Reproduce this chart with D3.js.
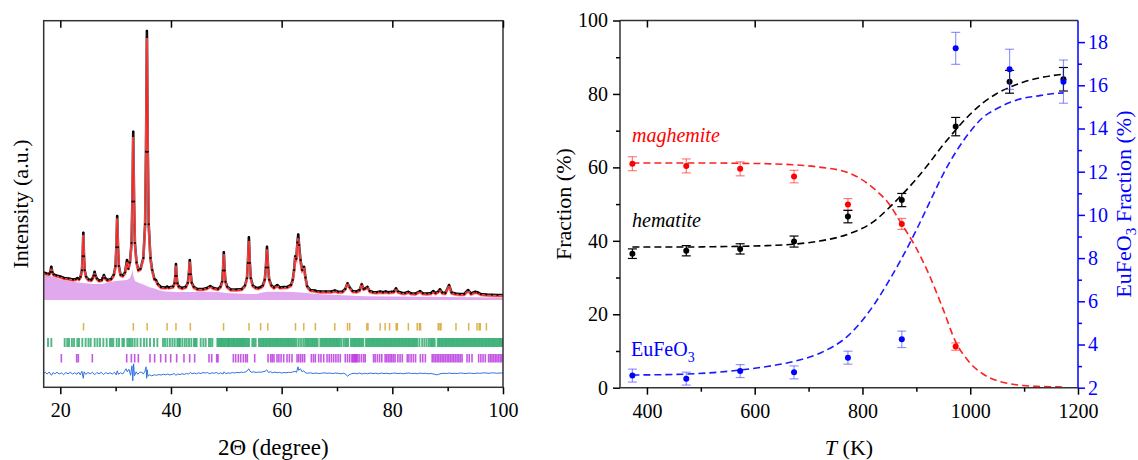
<!DOCTYPE html>
<meta charset="utf-8">
<style>
body { margin: 0; background: #fff; }
</style>
<body>
<script src="https://cdn.jsdelivr.net/npm/d3@7"></script>
<script>

// ---------- left panel: XRD refinement ----------
// [2theta, observed, calculated] in arbitrary units
var profile = [
  [17.0,110,105],[17.5,106,101],[18.0,104,99],[18.2,112,106],[18.37,133,124],[18.55,112,107],
  [18.8,102,97],[19.3,98,93],[20.0,94,89],[20.7,88,83],[21.5,86,81],[22.3,82,77],[22.8,84,79],
  [23.1,88,83],[23.4,84,79],[23.66,93,88],[23.91,119,114],[24.04,175,170],[24.16,269,260],
  [24.28,175,170],[24.41,119,114],[24.66,93,88],[25.1,82,77],[25.6,80,75],[25.8,86,81],
  [26.05,98,93],[26.2,113,106],[26.35,98,93],[26.6,86,81],[27.0,78,73],[27.5,80,75],
  [27.65,88,83],[27.88,100,94],[28.1,88,83],[28.5,80,75],[29.2,84,79],[29.68,101,96],
  [29.98,136,131],[30.13,211,206],[30.28,336,326],[30.43,211,206],[30.58,136,131],
  [30.88,101,96],[31.3,98,93],[31.7,110,104],[32.05,160,150],[32.3,125,120],[32.58,150,145],
  [32.88,228,222],[33.03,394,386],[33.18,673,652],[33.33,394,388],[33.48,228,223],
  [33.78,150,145],[34.1,120,115],[34.5,125,120],[35.01,168,163],[35.33,303,297],
  [35.49,593,582],[35.65,1076,1048],[35.81,593,585],[35.97,303,298],[36.29,168,163],
  [36.6,120,115],[37.0,84,79],[37.3,80,75],[37.6,64,59],[38.2,52,47],[39.0,50,45],
  [39.3,54,49],[39.6,50,45],[40.4,54,49],[40.65,67,62],[40.78,96,91],[40.9,144,137],
  [41.02,96,91],[41.15,67,62],[41.4,54,49],[42.0,48,43],[42.7,53,48],[43.05,69,64],
  [43.23,103,98],[43.4,160,153],[43.58,103,98],[43.75,69,64],[44.1,53,48],[44.8,44,39],
  [45.8,44,39],[46.5,48,43],[47.1,56,51],[47.7,48,43],[48.5,44,39],[48.95,53,48],
  [49.25,73,68],[49.4,118,113],[49.55,191,183],[49.7,118,113],[49.85,73,68],[50.15,53,48],
  [50.8,42,37],[51.8,42,37],[52.8,44,39],[53.38,58,53],[53.73,87,82],[53.9,148,142],
  [54.08,251,236],[54.25,148,143],[54.43,87,82],[54.78,58,53],[55.3,50,45],[55.8,48,43],
  [56.2,52,47],[56.6,58,53],[56.95,81,76],[57.15,130,124],[57.35,213,202],[57.55,130,125],
  [57.75,81,76],[58.15,58,53],[58.6,50,45],[59.2,60,54],[59.7,50,45],[60.3,52,47],
  [61.0,52,47],[61.7,60,55],[62.0,80,75],[62.25,120,115],[62.45,175,167],[62.65,165,159],
  [62.85,230,221],[63.0,262,246],[63.15,220,211],[63.4,160,150],[63.7,120,114],
  [64.05,133,124],[64.3,90,85],[64.6,55,50],[65.2,40,35],[66.0,38,33],[66.3,36,31],
  [67.0,34,29],[68.0,34,29],[69.0,34,29],[69.6,38,33],[70.2,33,28],[71.0,34,29],
  [71.5,44,40],[71.9,67,64],[72.3,50,47],[72.8,36,31],[73.5,34,29],[74.1,40,35],
  [74.47,63,60],[74.8,44,40],[75.1,46,42],[75.5,53,50],[75.9,36,31],[76.5,32,27],
  [77.2,31,26],[77.8,34,29],[78.3,31,26],[78.8,34,29],[79.3,31,26],[79.9,33,28],
  [80.3,34,29],[80.67,47,43],[81.0,34,29],[81.7,29,24],[82.3,28,23],[82.9,33,28],
  [83.4,27,22],[84.2,26,21],[85.0,36,31],[85.5,27,22],[86.3,26,21],[87.0,28,23],
  [87.4,36,31],[87.8,28,23],[88.3,34,30],[88.6,43,39],[89.0,30,25],[89.6,28,23],
  [90.25,60,56],[90.7,30,25],[91.4,26,21],[92.2,24,19],[93.0,24,19],[93.7,40,35],
  [94.2,26,21],[95.0,33,28],[95.5,30,25],[96.0,24,19],[97.0,22,17],[98.0,21,16],
  [99.0,20,15],[100.0,20,15]
];

// shaded contribution under the pattern
var background = [
  [17.0,100],[18.3,96],[20.0,82],[22.0,74],[24.0,68],[26.0,64],[27.5,64],[29.0,72],
  [30.0,76],[31.0,78],[32.0,80],[32.6,88],[32.9,105],[33.1,122],[33.2,96],[33.5,76],
  [34.0,70],[35.0,62],[36.0,52],[37.0,46],[38.0,38],[39.0,34],[41.0,32],[44.0,32],
  [47.0,33],[49.0,31],[50.0,28],[52.0,26],[54.0,24],[55.5,24],[56.5,30],[57.5,33],
  [60.0,33],[62.0,32],[63.5,30],[65.0,27],[67.0,23],[70.0,20],[72.0,18],[75.0,15],
  [80.0,14],[85.0,13],[90.0,12],[95.0,11],[100.0,9]
];

// observed - calculated
var difference = [
  [17.0,0],[17.3,4],[17.6,-3],[18.0,5],[18.4,-8],[18.7,3],[19.0,-2],[19.4,4],[19.8,-3],
  [20.2,2],[20.6,-5],[21.0,3],[21.4,-2],[21.8,4],[22.2,-3],[22.6,2],[23.0,-4],[23.3,5],
  [23.6,-6],[23.9,8],[24.15,-20],[24.3,6],[24.6,-4],[25.0,3],[25.4,-2],[25.8,4],[26.2,-6],
  [26.6,3],[27.0,-2],[27.4,4],[27.8,-5],[28.2,3],[28.6,-2],[29.0,2],[29.4,-3],[29.8,4],
  [30.1,-6],[30.3,10],[30.5,-4],[30.9,2],[31.3,-3],[31.6,8],[31.9,18],[32.1,6],[32.4,16],
  [32.7,-8],[32.95,30],[33.1,-30],[33.25,38],[33.4,-10],[33.7,6],[34.0,-4],[34.3,3],
  [34.7,5],[35.0,-3],[35.3,8],[35.5,26],[35.6,-20],[35.7,14],[35.85,-12],[36.1,-6],
  [36.5,-10],[37.0,-6],[37.4,-8],[37.8,-5],[38.2,-7],[38.6,-4],[39.0,-6],[39.4,-3],
  [39.8,-7],[40.2,-4],[40.6,-2],[40.9,-8],[41.2,-3],[41.6,-5],[42.0,-2],[42.4,-4],
  [42.8,-1],[43.2,-3],[43.5,4],[43.8,-2],[44.2,1],[44.6,-2],[45.0,2],[45.4,-1],[45.8,3],
  [46.2,1],[46.6,3],[47.0,-2],[47.4,2],[47.8,0],[48.2,3],[48.6,-2],[49.0,2],[49.4,-3],
  [49.6,6],[49.9,-2],[50.3,2],[50.7,0],[51.1,3],[51.5,1],[51.9,4],[52.3,2],[52.7,5],
  [53.1,3],[53.5,6],[53.8,10],[54.05,18],[54.3,8],[54.6,4],[55.0,6],[55.4,3],[55.8,5],
  [56.2,4],[56.6,6],[57.0,8],[57.3,14],[57.6,4],[58.0,6],[58.4,2],[58.8,5],[59.2,2],
  [59.6,4],[60.0,1],[60.4,3],[60.8,2],[61.2,4],[61.6,3],[62.0,5],[62.4,8],[62.7,4],
  [62.95,26],[63.1,12],[63.4,18],[63.7,6],[64.0,10],[64.3,2],[64.7,0],[65.2,2],[65.7,-1],
  [66.2,1],[66.7,-1],[67.2,0],[67.7,2],[68.2,0],[68.7,1],[69.2,-1],[69.7,1],[70.2,0],
  [70.7,-2],[71.2,0],[71.6,-4],[71.9,-12],[72.2,-6],[72.6,-2],[73.1,0],[73.6,-2],
  [74.1,1],[74.5,-3],[75.0,0],[75.5,-2],[76.0,1],[76.5,-1],[77.0,0],[77.5,-2],[78.0,1],
  [78.5,-1],[79.0,0],[79.5,-2],[80.0,0],[80.5,1],[81.0,-1],[81.5,0],[82.0,-2],[82.5,0],
  [83.0,1],[83.5,-1],[84.0,0],[84.5,-2],[85.0,1],[85.5,-1],[86.0,0],[86.5,-2],[87.0,-1],
  [87.5,-3],[88.0,-6],[88.4,-4],[88.8,-1],[89.3,0],[89.8,-1],[90.3,1],[90.8,-1],[91.3,0],
  [91.8,-1],[92.3,1],[92.8,0],[93.3,-1],[93.8,1],[94.3,0],[94.8,-1],[95.3,1],[95.8,0],
  [96.3,1],[96.8,2],[97.3,0],[97.8,1],[98.3,2],[98.8,0],[99.3,1],[100.0,1]
];

// Bragg reflection positions (2theta) of the three phases
var reflGold = [24.2,33.2,35.7,39.3,40.9,43.5,49.5,54.1,56.2,57.5,62.5,64.0,66.1,69.6,71.9,
  72.3,75.4,75.6,77.8,78.7,79.5,80.7,80.9,82.9,84.5,84.9,85.1,88.3,88.6,88.8,91.5,93.8,
  95.3,95.7,95.9,97.0];
var reflGreen = [17.78,18.38,20.79,21.25,21.57,22.10,22.48,23.08,23.38,23.98,24.58,25.10,
  25.49,26.21,26.70,27.17,27.78,28.38,28.98,29.30,29.58,30.19,30.61,31.21,31.50,32.11,
  32.42,32.72,33.02,33.44,33.92,34.52,35.13,35.61,36.21,36.93,37.54,38.56,38.92,39.34,
  39.80,40.25,40.67,41.15,41.40,41.63,42.05,42.48,42.84,43.26,43.68,44.16,44.40,44.64,
  45.37,45.85,46.27,46.87,47.17,47.48,48.38,48.60,48.85,49.10,49.30,49.55,49.80,50.05,
  50.30,50.50,50.75,51.00,51.25,51.45,51.70,51.95,52.20,52.40,52.65,52.90,53.10,53.35,
  53.60,53.85,54.10,54.70,55.00,55.30,55.90,56.15,56.40,56.65,56.90,57.15,57.40,57.65,
  57.90,58.15,58.40,58.65,58.90,59.15,59.40,59.65,59.90,60.15,60.40,60.65,60.90,61.15,
  61.40,61.65,61.90,62.15,62.40,62.70,63.10,63.50,63.90,64.25,64.50,64.75,65.00,65.25,
  65.50,65.75,66.00,66.25,66.50,67.00,67.25,67.50,67.75,68.00,68.25,68.50,68.75,69.00,
  69.25,69.50,69.75,70.00,70.25,70.50,70.80,71.20,71.50,71.75,72.00,72.50,72.75,73.00,
  73.25,73.50,73.75,74.00,74.25,74.50,74.75,75.25,75.50,75.75,76.00,76.25,76.50,76.75,
  77.00,77.25,77.50,77.75,78.00,78.25,78.50,78.75,79.00,79.25,79.50,79.75,80.00,80.25,
  80.50,80.75,81.00,81.25,81.50,81.75,82.00,82.25,82.50,82.75,83.00,83.25,83.50,83.75,
  84.00,84.25,84.50,84.90,85.40,85.80,86.20,86.60,86.90,87.15,87.40,87.65,88.20,88.45,
  88.70,88.95,89.20,89.45,89.70,89.95,90.20,90.45,90.70,90.95,91.20,91.45,91.70,91.95,
  92.20,92.45,92.70,92.95,93.20,93.45,93.70,93.95,94.20,94.45,94.70,94.95,95.20,95.45,
  95.70,95.95,96.20,96.45,96.70,96.95,97.20,97.45,97.70,97.95,98.20,98.45,98.70,98.95,
  99.20,99.45,99.70,99.95];
var reflPurple = [20.19,22.96,23.26,25.79,32.00,32.84,33.44,34.10,36.21,37.05,38.14,39.04,
  39.95,41.03,42.35,43.38,44.28,46.87,47.36,48.26,48.50,51.27,51.69,52.17,52.60,53.08,
  53.50,53.80,55.13,57.54,58.02,58.30,58.62,59.16,59.50,59.90,60.37,60.97,61.40,61.87,
  62.78,63.10,63.45,63.80,64.16,65.37,65.75,66.09,66.69,67.10,67.60,68.20,68.60,69.00,
  69.40,69.80,70.20,70.60,71.50,71.90,72.30,72.70,72.90,73.10,73.30,73.50,73.70,74.00,
  74.40,74.80,75.10,76.60,76.90,77.30,77.70,78.10,78.70,79.00,79.30,79.60,79.90,80.20,
  80.50,81.00,81.40,81.80,82.70,83.00,83.40,83.80,84.20,85.07,85.50,85.97,87.20,87.50,
  87.80,88.10,88.40,88.70,89.00,89.30,89.60,89.90,90.20,90.50,90.80,91.10,91.40,91.70,
  92.00,92.30,92.60,93.50,93.90,94.40,95.60,96.00,96.40,96.80,97.40,97.70,98.00,98.30,
  98.60,98.90,99.20,99.50,99.80];

// ---------- right panel: phase fractions ----------
var temps = [373, 473, 573, 673, 773, 873, 973, 1073, 1173];
var maghemite = [61.0, 60.4, 59.6, 57.5, 49.9, 44.6, 11.2];
var maghemiteErr = [1.9, 1.9, 1.9, 1.7, 1.6, 1.5, 1.0];
var hematite = [36.5, 37.3, 37.8, 39.8, 46.6, 51.1, 71.1, 83.3, 84.0];
var hematiteErr = [1.3, 1.4, 1.4, 1.5, 1.7, 1.8, 2.5, 3.1, 3.2];
var eufeo3 = [2.56, 2.42, 2.77, 2.71, 3.39, 4.24, 17.71, 16.74, 16.17];
var eufeo3Err = [0.3, 0.3, 0.3, 0.3, 0.3, 0.38, 0.74, 0.93, 1.0];

// fitted curves
var fitT = [373,423,473,523,573,623,673,723,773,823,848,873,898,923,948,973,998,1023,1048,1073,1098,1123,1148,1173];
var fitMaghemite = [61.2,61.2,61.2,61.2,61.1,61.0,60.7,60.0,58.6,54.0,50.3,44.5,38.5,31.0,22.0,12.5,7.0,3.8,2.0,1.1,0.6,0.35,0.25,0.2];
var fitHematite = [38.3,38.3,38.3,38.4,38.5,38.7,39.1,40.0,41.8,45.5,48.8,52.5,56.5,61.0,65.8,70.2,74.2,77.5,80.0,81.8,83.2,84.2,84.9,85.4];
var fitEufeo3 = [2.59,2.60,2.63,2.70,2.82,2.98,3.22,3.62,4.4,5.9,6.9,8.0,9.2,10.5,11.8,12.9,13.8,14.5,14.9,15.2,15.4,15.5,15.6,15.65];

var xTicksL = [20, 40, 60, 80, 100], xMinorL = [30, 50, 70, 90];

var serif = "'Liberation Serif'";

function draw() {
  var svg = d3.select("body").append("svg")
      .attr("width", 1138).attr("height", 460);

  function styleAxis(g, size) {
    g.attr("font-family", null).attr("font-size", size);
    g.select(".domain").remove();
    g.selectAll(".tick line").attr("stroke-width", 1.5);
  }

  // left panel
  var L = {left: 43.7, right: 503, top: 20.7, bottom: 387.3};
  var xL = d3.scaleLinear().domain([17, 100]).range([L.left, L.right]);
  var yL = d3.scaleLinear().domain([-349, 1117]).range([L.bottom, L.top]);

  svg.append("clipPath").attr("id", "clipL").append("rect")
      .attr("x", L.left).attr("y", L.top)
      .attr("width", L.right - L.left).attr("height", L.bottom - L.top);

  var gL = svg.append("g").attr("clip-path", "url(#clipL)");

  gL.append("path")
      .datum(background)
      .attr("fill", "#e0a9ee")
      .attr("d", d3.area().x(function(d) { return xL(d[0]); })
        .y0(yL(0)).y1(function(d) { return yL(d[1]); }));

  var lineObs = d3.line().x(function(d) { return xL(d[0]); }).y(function(d) { return yL(d[1]); });
  var lineCalc = d3.line().x(function(d) { return xL(d[0]); }).y(function(d) { return yL(d[2]); });

  gL.append("path").datum(profile)
      .attr("fill", "none").attr("stroke", "#111").attr("stroke-width", 2.6)
      .attr("stroke-linejoin", "round").attr("d", lineObs);
  gL.append("path").datum(profile)
      .attr("fill", "none").attr("stroke", "rgba(255,130,130,0.8)").attr("stroke-width", 2.4)
      .attr("d", lineCalc);
  gL.append("path").datum(profile)
      .attr("fill", "none").attr("stroke", "#ff2020").attr("stroke-width", 1.1)
      .attr("d", lineCalc);

  gL.selectAll(".obs").data(profile).enter().append("circle")
      .attr("cx", function(d) { return xL(d[0]); })
      .attr("cy", function(d) { return yL(d[1]); })
      .attr("r", 1.1).attr("fill", "#000");

  // reflection markers
  var rows = [
    {data: reflGold, y0: 323, y1: 330.5, color: "#d6a020", op: 0.8, w: 1.5},
    {data: reflGreen, y0: 338, y1: 347, color: "#23a665", op: 0.8, w: 1.9},
    {data: reflPurple, y0: 354, y1: 362.5, color: "#b21fdc", op: 0.75, w: 1.6}
  ];
  rows.forEach(function(r) {
    gL.append("g").selectAll("line").data(r.data).enter().append("line")
        .attr("x1", function(d) { return xL(d); }).attr("x2", function(d) { return xL(d); })
        .attr("y1", r.y0).attr("y2", r.y1)
        .attr("stroke", r.color).attr("stroke-width", r.w).attr("stroke-opacity", r.op);
  });

  // difference curve, shifted below the markers
  var diffOffset = -293;
  gL.append("path").datum(difference)
      .attr("fill", "none").attr("stroke", "#2f72dd").attr("stroke-width", 1)
      .attr("d", d3.line().x(function(d) { return xL(d[0]); })
        .y(function(d) { return yL(diffOffset + d[1]); }));

  svg.append("rect")
      .attr("x", L.left).attr("y", L.top)
      .attr("width", L.right - L.left).attr("height", L.bottom - L.top)
      .attr("fill", "none").attr("stroke", "#333").attr("stroke-width", 1.5);

  var axL = svg.append("g").attr("transform", "translate(0," + L.bottom + ")")
      .call(d3.axisBottom(xL).tickValues(xTicksL).tickSize(7).tickPadding(9).tickFormat(d3.format("d")));
  styleAxis(axL, 20);
  var axLm = svg.append("g").attr("transform", "translate(0," + L.bottom + ")")
      .call(d3.axisBottom(xL).tickValues(xMinorL).tickSize(4).tickFormat(""));
  styleAxis(axLm, 20);
  var axLt = svg.append("g").attr("transform", "translate(0," + L.top + ")")
      .call(d3.axisTop(xL).tickValues(xTicksL).tickSize(-7).tickFormat(""));
  styleAxis(axLt, 20);

  svg.append("text")
      .attr("transform", "translate(28," + ((L.top + L.bottom) / 2) + ") rotate(-90)")
      .attr("text-anchor", "middle").attr("font-size", 22)
      .text("Intensity (a.u.)");
  svg.append("text")
      .attr("x", (L.left + L.right) / 2).attr("y", 455)
      .attr("text-anchor", "middle").attr("font-size", 23)
      .text("2\u0398 (degree)");

  // right panel
  var R = {left: 620, right: 1078, top: 20.5, bottom: 387.7};
  var xR = d3.scaleLinear().domain([350, 1200]).range([R.left, R.right]);
  var yR = d3.scaleLinear().domain([0, 100]).range([R.bottom, R.top]);
  var yR2 = d3.scaleLinear().domain([2, 19]).range([R.bottom, R.top]);

  var gR = svg.append("g");

  function fitLine(vals, yScale, color) {
    var pts = fitT.map(function(t, i) { return [t, vals[i]]; });
    gR.append("path").datum(pts)
        .attr("fill", "none").attr("stroke", color).attr("stroke-width", 1.6)
        .attr("stroke-dasharray", "7,4")
        .attr("d", d3.line().curve(d3.curveMonotoneX)
          .x(function(d) { return xR(d[0]); }).y(function(d) { return yScale(d[1]); }));
  }
  fitLine(fitMaghemite, yR, "#ff2020");
  fitLine(fitHematite, yR, "#000");
  fitLine(fitEufeo3, yR2, "#1a1aff");

  function series(vals, errs, yScale, color, barColor) {
    var pts = vals.map(function(v, i) { return {t: temps[i], v: v, e: errs[i]}; });
    var g = gR.append("g");
    var cap = 4.5;
    pts.forEach(function(p) {
      var cx = xR(p.t), yt = yScale(p.v + p.e), yb = yScale(p.v - p.e);
      g.append("line").attr("x1", cx).attr("x2", cx).attr("y1", yt).attr("y2", yb)
          .attr("stroke", barColor).attr("stroke-width", 1.2);
      g.append("line").attr("x1", cx - cap).attr("x2", cx + cap).attr("y1", yt).attr("y2", yt)
          .attr("stroke", barColor).attr("stroke-width", 1.2);
      g.append("line").attr("x1", cx - cap).attr("x2", cx + cap).attr("y1", yb).attr("y2", yb)
          .attr("stroke", barColor).attr("stroke-width", 1.2);
    });
    g.selectAll("circle").data(pts).enter().append("circle")
        .attr("cx", function(d) { return xR(d.t); })
        .attr("cy", function(d) { return yScale(d.v); })
        .attr("r", 3).attr("fill", color);
  }
  series(maghemite, maghemiteErr, yR, "#ff0000", "rgba(255,40,40,0.6)");
  series(hematite, hematiteErr, yR, "#000", "#000");
  series(eufeo3, eufeo3Err, yR2, "#0000ff", "rgba(60,60,255,0.55)");

  // phase labels
  svg.append("text").attr("x", 632).attr("y", 142).attr("font-size", 20)
      .attr("font-style", "italic").attr("fill", "#ff0000").text("maghemite");
  svg.append("text").attr("x", 632).attr("y", 227).attr("font-size", 20)
      .attr("font-style", "italic").attr("fill", "#000").text("hematite");
  var eu = svg.append("text").attr("x", 631).attr("y", 356).attr("font-size", 20)
      .attr("fill", "#0000ff");
  eu.append("tspan").text("EuFeO");
  eu.append("tspan").attr("dy", 6).attr("font-size", 14).text("3");

  // spines
  [[R.left, R.top, R.right, R.top, "#333"], [R.left, R.bottom, R.right, R.bottom, "#333"],
   [R.left, R.top, R.left, R.bottom, "#333"], [R.right, R.top, R.right, R.bottom, "#0000ff"]]
    .forEach(function(s) {
      svg.append("line").attr("x1", s[0]).attr("y1", s[1]).attr("x2", s[2]).attr("y2", s[3])
          .attr("stroke", s[4]).attr("stroke-width", 1.5);
    });

  var axB = svg.append("g").attr("transform", "translate(0," + R.bottom + ")")
      .call(d3.axisBottom(xR).tickValues([400, 600, 800, 1000, 1200]).tickSize(7).tickPadding(9).tickFormat(d3.format("d")));
  styleAxis(axB, 20);
  var axBm = svg.append("g").attr("transform", "translate(0," + R.bottom + ")")
      .call(d3.axisBottom(xR).tickValues([500, 700, 900, 1100]).tickSize(4).tickFormat(""));
  styleAxis(axBm, 20);
  var axT = svg.append("g").attr("transform", "translate(0," + R.top + ")")
      .call(d3.axisTop(xR).tickValues([400, 600, 800, 1000]).tickSize(-7).tickFormat(""));
  styleAxis(axT, 20);

  var axY = svg.append("g").attr("transform", "translate(" + R.left + ",0)")
      .call(d3.axisLeft(yR).tickValues([0, 20, 40, 60, 80, 100]).tickSize(7).tickPadding(5));
  styleAxis(axY, 20);
  var axYm = svg.append("g").attr("transform", "translate(" + R.left + ",0)")
      .call(d3.axisLeft(yR).tickValues([10, 30, 50, 70, 90]).tickSize(4).tickFormat(""));
  styleAxis(axYm, 20);

  var axY2 = svg.append("g").attr("transform", "translate(" + R.right + ",0)")
      .call(d3.axisRight(yR2).tickValues([2, 4, 6, 8, 10, 12, 14, 16, 18]).tickSize(7).tickPadding(3));
  styleAxis(axY2, 20);
  axY2.attr("color", "#0000ff");
  var axY2m = svg.append("g").attr("transform", "translate(" + R.right + ",0)")
      .call(d3.axisRight(yR2).tickValues([3, 5, 7, 9, 11, 13, 15, 17]).tickSize(4).tickFormat(""));
  styleAxis(axY2m, 20);
  axY2m.attr("color", "#0000ff");

  svg.append("text")
      .attr("transform", "translate(571," + ((R.top + R.bottom) / 2) + ") rotate(-90)")
      .attr("text-anchor", "middle").attr("font-size", 22)
      .text("Fraction (%)");

  var t2 = svg.append("text")
      .attr("transform", "translate(1131," + ((R.top + R.bottom) / 2) + ") rotate(-90)")
      .attr("text-anchor", "middle").attr("font-size", 22).attr("fill", "#0000ff");
  t2.append("tspan").text("EuFeO");
  t2.append("tspan").attr("dy", 5).attr("font-size", 15).text("3");
  t2.append("tspan").attr("dy", -5).text(" Fraction (%)");

  var tl = svg.append("text").attr("x", (R.left + R.right) / 2).attr("y", 455)
      .attr("text-anchor", "middle").attr("font-size", 22);
  tl.append("tspan").attr("font-style", "italic").text("T");
  tl.append("tspan").text(" (K)");

  svg.selectAll("text").style("font-family", serif);
}

// make sure the serif face is ready before any text is laid out
Promise.all([
  document.fonts.load("20px " + serif),
  document.fonts.load("italic 20px " + serif)
]).then(draw, draw);

</script>
</body>
